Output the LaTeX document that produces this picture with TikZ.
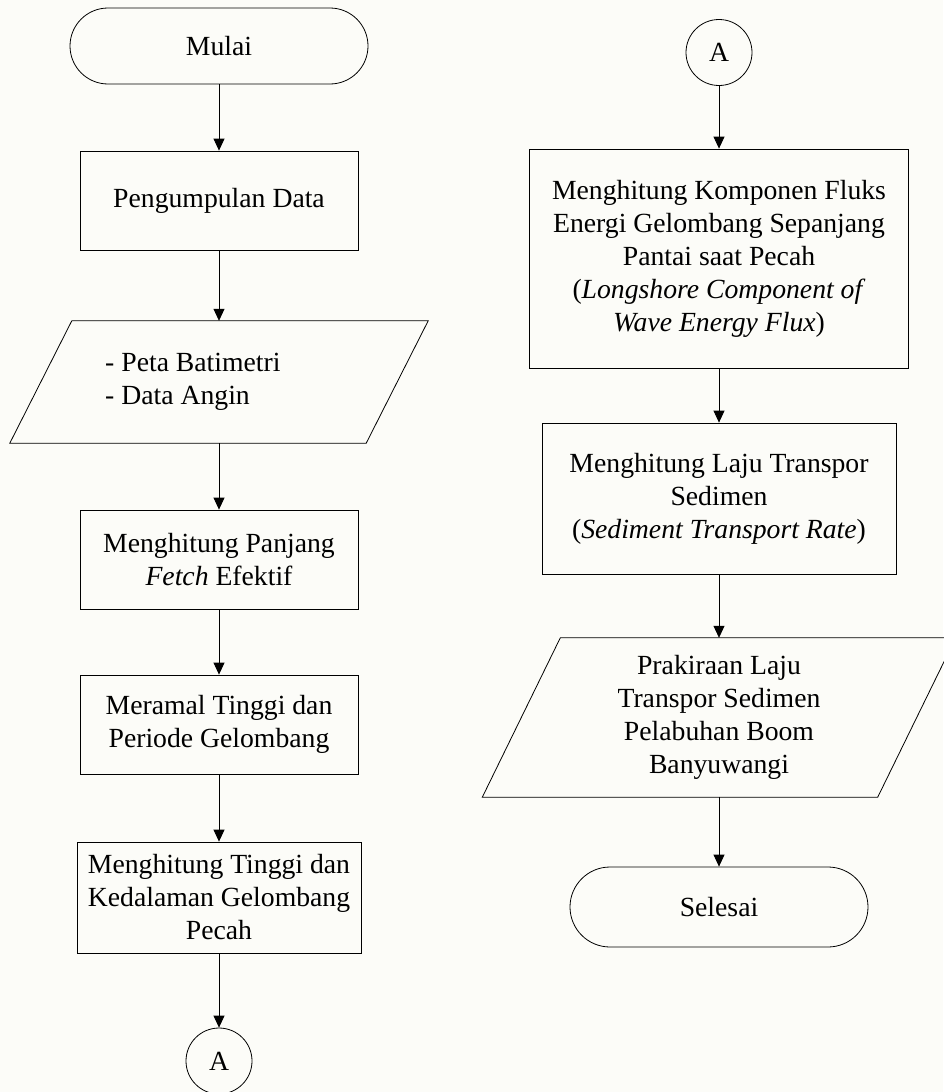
\documentclass[tikz,border=0pt]{standalone}
\usepackage{fontspec}
\setmainfont{Liberation Serif}
\usetikzlibrary{arrows.meta,calc}
\definecolor{paper}{RGB}{252,252,248}
\begin{document}
\begin{tikzpicture}[x=1pt,y=-1pt,
  every node/.style={font=\fontsize{27.7}{33}\selectfont, text=black, inner sep=0pt},
  proc/.style={draw, line width=0.8pt, rectangle, align=center},
  term/.style={draw, line width=0.8pt, rectangle, align=center},
  conn/.style={draw, line width=0.8pt, circle, minimum size=66pt},
  io/.style={rectangle, align=center},
  ioline/.style={line width=0.8pt},
  flow/.style={line width=0.8pt, -{Triangle[length=12pt,width=11pt]}}
]
\fill[paper] (0,0) rectangle (943,1092);
\useasboundingbox (0,0) rectangle (943,1092);

% ---------- left column ----------
\node[term, rounded corners=38pt, minimum width=298pt, minimum height=76pt] (mulai) at (219,46) {Mulai};
\node[proc, minimum width=278pt, minimum height=99pt] (kumpul) at (219,200.5) {Pengumpulan Data};

\node[io, minimum width=356pt, minimum height=122pt] (data) at (219,382) {};
\draw[ioline] ($(data.north west)+(31,0)$) -- ($(data.north east)+(31,0)$)
  -- ($(data.south east)+(-31,0)$) -- ($(data.south west)+(-31,0)$) -- cycle;
\node[align=left, anchor=west] (datatext) at (105,382) {- Peta Batimetri\\- Data Angin};

\node[proc, minimum width=278pt, minimum height=99pt] (fetch) at (219,559.5) {Menghitung Panjang\\\textit{Fetch} Efektif};
\node[proc, minimum width=278pt, minimum height=99pt] (ramal) at (219,724.5) {Meramal Tinggi dan\\Periode Gelombang};
\node[proc, minimum width=284pt, minimum height=111pt] (tinggi) at (219,897.5) {Menghitung Tinggi dan\\Kedalaman Gelombang\\Pecah};
\node[conn] (A1) at (219,1061) {A};

\draw[flow] (mulai.south) -- (kumpul.north);
\draw[flow] (kumpul.south) -- (data.north);
\draw[flow] (data.south) -- (fetch.north);
\draw[flow] (fetch.south) -- (ramal.north);
\draw[flow] (ramal.south) -- (tinggi.north);
\draw[flow] (tinggi.south) -- (A1.north);

% ---------- right column ----------
\node[conn] (A2) at (719,52.5) {A};
\node[proc, minimum width=379pt, minimum height=219pt] (fluks) at (719,258.5)
  {Menghitung Komponen Fluks\\Energi Gelombang Sepanjang\\Pantai saat Pecah\\(\textit{Longshore Component of}\\\textit{Wave Energy Flux})};
\node[proc, minimum width=354pt, minimum height=151pt] (laju) at (719,498.5)
  {Menghitung Laju Transpor\\Sedimen\\(\textit{Sediment Transport Rate})};

\node[io, minimum width=395pt, minimum height=159pt] (hasil) at (719,717.5)
  {Prakiraan Laju\\Transpor Sedimen\\Pelabuhan Boom\\Banyuwangi};
\draw[ioline] ($(hasil.north west)+(39,0)$) -- ($(hasil.north east)+(39,0)$)
  -- ($(hasil.south east)+(-39,0)$) -- ($(hasil.south west)+(-39,0)$) -- cycle;

\node[term, rounded corners=40pt, minimum width=298pt, minimum height=80pt] (selesai) at (719,907) {Selesai};

\draw[flow] (A2.south) -- (fluks.north);
\draw[flow] (fluks.south) -- (laju.north);
\draw[flow] (laju.south) -- (hasil.north);
\draw[flow] (hasil.south) -- (selesai.north);
\end{tikzpicture}
\end{document}
